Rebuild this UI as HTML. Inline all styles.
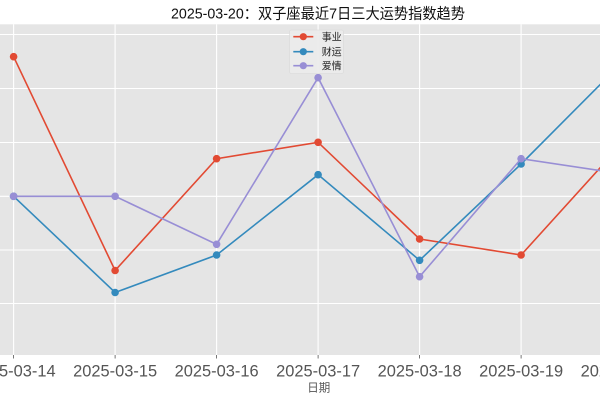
<!DOCTYPE html>
<html>
<head>
<meta charset="utf-8">
<style>
  html,body{margin:0;padding:0;background:#fff;}
  svg{display:block;}
  text{font-family:"Liberation Sans","Noto Sans CJK SC",sans-serif;}
</style>
</head>
<body>
<svg width="600" height="400" viewBox="0 0 600 400" xmlns="http://www.w3.org/2000/svg">
  <defs>
    <clipPath id="plot"><rect x="0" y="24.3" width="600" height="330.7"/></clipPath>
  </defs>
  <rect x="0" y="0" width="600" height="400" fill="#ffffff"/>
  <!-- plot background -->
  <rect x="0" y="24.3" width="600" height="330.7" fill="#E5E5E5"/>
  <!-- grid -->
  <g stroke="#ffffff" stroke-width="1.1" fill="none">
    <line x1="0" y1="34.5" x2="600" y2="34.5"/>
    <line x1="0" y1="88.5" x2="600" y2="88.5"/>
    <line x1="0" y1="142.5" x2="600" y2="142.5"/>
    <line x1="0" y1="196.3" x2="600" y2="196.3"/>
    <line x1="0" y1="250" x2="600" y2="250"/>
    <line x1="0" y1="303.5" x2="600" y2="303.5"/>
    <line x1="13.6" y1="24.3" x2="13.6" y2="355"/>
    <line x1="115.1" y1="24.3" x2="115.1" y2="355"/>
    <line x1="216.6" y1="24.3" x2="216.6" y2="355"/>
    <line x1="318.1" y1="24.3" x2="318.1" y2="355"/>
    <line x1="419.6" y1="24.3" x2="419.6" y2="355"/>
    <line x1="521.1" y1="24.3" x2="521.1" y2="355"/>
  </g>
  <!-- series -->
  <g clip-path="url(#plot)">
    <polyline fill="none" stroke="#E24A33" stroke-width="1.6" points="13.6,56.7 115.1,270.5 216.6,158.7 318.1,142.3 419.6,239 521.1,255 622.6,143"/>
    <g fill="#E24A33">
      <circle cx="13.6" cy="56.7" r="3.8"/><circle cx="115.1" cy="270.5" r="3.8"/><circle cx="216.6" cy="158.7" r="3.8"/><circle cx="318.1" cy="142.3" r="3.8"/><circle cx="419.6" cy="239" r="3.8"/><circle cx="521.1" cy="255" r="3.8"/>
    </g>
    <polyline fill="none" stroke="#348ABD" stroke-width="1.6" points="13.6,196.3 115.1,292.5 216.6,255 318.1,174.7 419.6,260.3 521.1,164 622.6,62"/>
    <g fill="#348ABD">
      <circle cx="13.6" cy="196.3" r="3.8"/><circle cx="115.1" cy="292.5" r="3.8"/><circle cx="216.6" cy="255" r="3.8"/><circle cx="318.1" cy="174.7" r="3.8"/><circle cx="419.6" cy="260.3" r="3.8"/><circle cx="521.1" cy="164" r="3.8"/>
    </g>
    <polyline fill="none" stroke="#988ED5" stroke-width="1.6" points="13.6,196.3 115.1,196.3 216.6,244.3 318.1,77.7 419.6,276.7 521.1,158.7 622.6,174"/>
    <g fill="#988ED5">
      <circle cx="13.6" cy="196.3" r="3.8"/><circle cx="115.1" cy="196.3" r="3.8"/><circle cx="216.6" cy="244.3" r="3.8"/><circle cx="318.1" cy="77.7" r="3.8"/><circle cx="419.6" cy="276.7" r="3.8"/><circle cx="521.1" cy="158.7" r="3.8"/>
    </g>
  </g>
  <!-- ticks -->
  <g stroke="#555555" stroke-width="0.8">
    <line x1="13.6" y1="355" x2="13.6" y2="358.5"/>
    <line x1="115.1" y1="355" x2="115.1" y2="358.5"/>
    <line x1="216.6" y1="355" x2="216.6" y2="358.5"/>
    <line x1="318.1" y1="355" x2="318.1" y2="358.5"/>
    <line x1="419.6" y1="355" x2="419.6" y2="358.5"/>
    <line x1="521.1" y1="355" x2="521.1" y2="358.5"/>
  </g>
  <!-- x tick labels -->
  <g fill="#555555" font-size="16.5" text-anchor="middle">
    <text x="13.6" y="376.5" textLength="84" lengthAdjust="spacingAndGlyphs">2025-03-14</text>
    <text x="115.1" y="376.5" textLength="84" lengthAdjust="spacingAndGlyphs">2025-03-15</text>
    <text x="216.6" y="376.5" textLength="84" lengthAdjust="spacingAndGlyphs">2025-03-16</text>
    <text x="318.1" y="376.5" textLength="84" lengthAdjust="spacingAndGlyphs">2025-03-17</text>
    <text x="419.6" y="376.5" textLength="84" lengthAdjust="spacingAndGlyphs">2025-03-18</text>
    <text x="521.1" y="376.5" textLength="84" lengthAdjust="spacingAndGlyphs">2025-03-19</text>
    <text x="622.6" y="376.5" textLength="84" lengthAdjust="spacingAndGlyphs">2025-03-20</text>
  </g>
  <!-- x axis label -->
  <text x="318.8" y="391.5" fill="#555555" font-size="11.5" text-anchor="middle">日期</text>
  <!-- title -->
  <text x="171" y="18.5" fill="#111111" font-size="15" textLength="294" lengthAdjust="spacingAndGlyphs">2025-03-20：双子座最近7日三大运势指数趋势</text>
  <!-- legend -->
  <rect x="289.5" y="30" width="54" height="43.5" rx="2" fill="#EBEBEB" fill-opacity="0.9" stroke="#D8D8D8" stroke-width="0.6"/>
  <line x1="293.3" y1="36.7" x2="313.3" y2="36.7" stroke="#E24A33" stroke-width="1.6"/>
  <circle cx="303.3" cy="36.7" r="3.6" fill="#E24A33"/>
  <line x1="293.3" y1="51.7" x2="313.3" y2="51.7" stroke="#348ABD" stroke-width="1.6"/>
  <circle cx="303.3" cy="51.7" r="3.6" fill="#348ABD"/>
  <line x1="293.3" y1="65.7" x2="313.3" y2="65.7" stroke="#988ED5" stroke-width="1.6"/>
  <circle cx="303.3" cy="65.7" r="3.6" fill="#988ED5"/>
  <g fill="#222222" font-size="10">
    <text x="321.7" y="40.3">事业</text>
    <text x="321.7" y="55.3">财运</text>
    <text x="321.7" y="69.3">爱情</text>
  </g>
</svg>
</body>
</html>
